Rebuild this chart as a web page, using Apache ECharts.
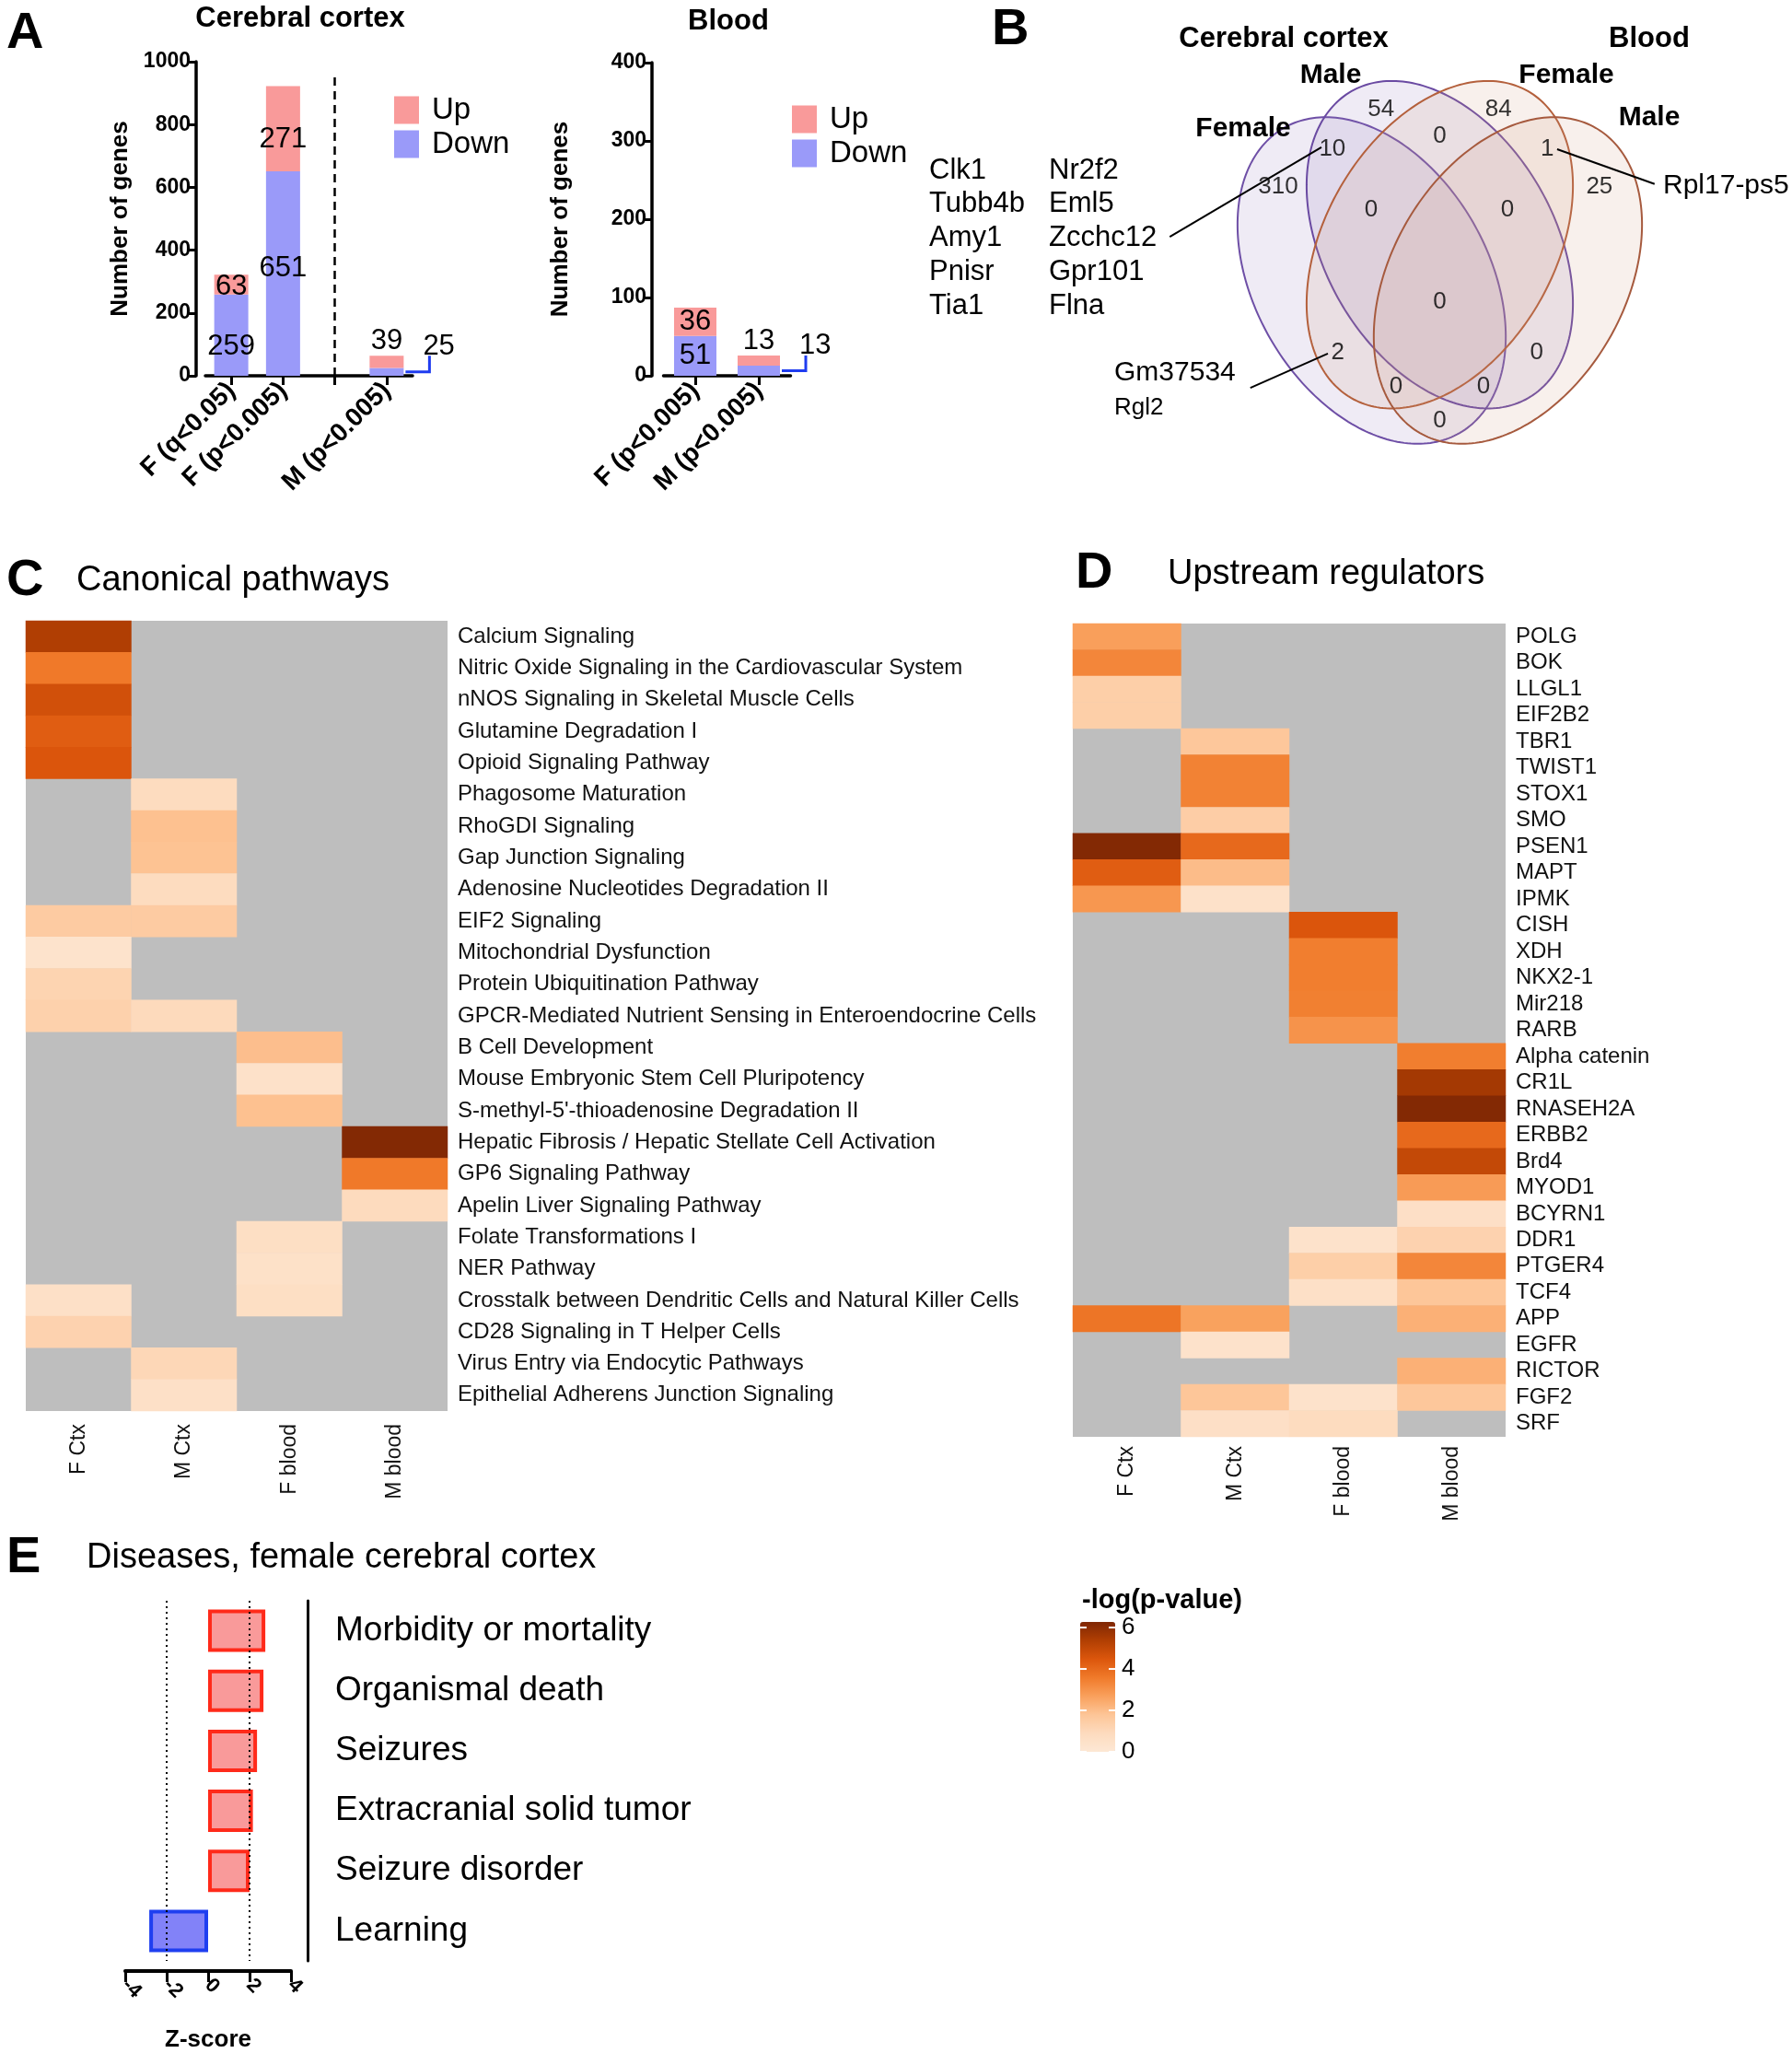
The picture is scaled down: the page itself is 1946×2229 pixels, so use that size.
<!DOCTYPE html>
<html><head><meta charset="utf-8">
<script src="https://cdn.jsdelivr.net/npm/echarts@6/dist/echarts.min.js"></script>
<style>html,body{margin:0;padding:0;background:#fff}#c{width:1946px;height:2229px}</style>
</head><body><div id="c"></div>
<script>
const FF = '"Liberation Sans", Arial, Helvetica, sans-serif';

// ---------- Panel A data ----------
const ctxCategories = ['F (q<0.05)', 'F (p<0.005)', '', 'M (p<0.005)'];
const ctxDown = [259, 651, null, 25];
const ctxUp = [63, 271, null, 39];
const bloodCategories = ['F (p<0.005)', 'M (p<0.005)'];
const bloodDown = [51, 13];
const bloodUp = [36, 13];

// ---------- Panel B data (Venn, normalised units) ----------
const vennSetNames = ['Cerebral cortex Female', 'Cerebral cortex Male', 'Blood Female', 'Blood Male'];
// [cx, cy, semi-major, semi-minor, angle deg]
const vennEllipses = [
  [0.363, 0.564, 0.354, 0.235, 60],
  [0.500, 0.492, 0.356, 0.231, 60],
  [0.500, 0.492, 0.356, 0.231, 120],
  [0.637, 0.564, 0.354, 0.235, 120]
];
const vennCounts = [
  [0.382, 0.220, 54], [0.618, 0.220, 84], [0.284, 0.300, 10], [0.500, 0.274, 0],
  [0.716, 0.300, 1], [0.175, 0.376, 310], [0.821, 0.376, 25], [0.362, 0.422, 0],
  [0.636, 0.422, 0], [0.500, 0.607, 0], [0.295, 0.709, 2], [0.695, 0.709, 0],
  [0.412, 0.778, 0], [0.588, 0.778, 0], [0.500, 0.846, 0]
];
const vennLinks = [
  [0.262, 0.296, -0.043, 0.476],
  [0.275, 0.711, 0.119, 0.780],
  [0.736, 0.300, 0.932, 0.370]
];
const genesCol1 = ['Clk1', 'Tubb4b', 'Amy1', 'Pnisr', 'Tia1'];
const genesCol2 = ['Nr2f2', 'Eml5', 'Zcchc12', 'Gpr101', 'Flna'];

// ---------- Panel C / D data ----------
const hmColumns = ['F Ctx', 'M Ctx', 'F blood', 'M blood'];
const pathwayNames = [
  'Calcium Signaling',
  'Nitric Oxide Signaling in the Cardiovascular System',
  'nNOS Signaling in Skeletal Muscle Cells',
  'Glutamine Degradation I',
  'Opioid Signaling Pathway',
  'Phagosome Maturation',
  'RhoGDI Signaling',
  'Gap Junction Signaling',
  'Adenosine Nucleotides Degradation II',
  'EIF2 Signaling',
  'Mitochondrial Dysfunction',
  'Protein Ubiquitination Pathway',
  'GPCR-Mediated Nutrient Sensing in Enteroendocrine Cells',
  'B Cell Development',
  'Mouse Embryonic Stem Cell Pluripotency',
  "S-methyl-5'-thioadenosine Degradation II",
  'Hepatic Fibrosis / Hepatic Stellate Cell Activation',
  'GP6 Signaling Pathway',
  'Apelin Liver Signaling Pathway',
  'Folate Transformations I',
  'NER Pathway',
  'Crosstalk between Dendritic Cells and Natural Killer Cells',
  'CD28 Signaling in T Helper Cells',
  'Virus Entry via Endocytic Pathways',
  'Epithelial Adherens Junction Signaling'
];
const pathwayValues = [
  [5.4, null, null, null],
  [3.6, null, null, null],
  [4.7, null, null, null],
  [4.3, null, null, null],
  [4.5, null, null, null],
  [null, 0.85, null, null],
  [null, 1.9, null, null],
  [null, 1.85, null, null],
  [null, 0.85, null, null],
  [1.55, 1.55, null, null],
  [0.35, null, null, null],
  [1.2, null, null, null],
  [1.3, 0.95, null, null],
  [null, null, 1.95, null],
  [null, null, 0.45, null],
  [null, null, 1.9, null],
  [null, null, null, 6.2],
  [null, null, null, 3.6],
  [null, null, null, 0.9],
  [null, null, 0.65, null],
  [null, null, 0.5, null],
  [0.55, null, 0.65, null],
  [1.25, null, null, null],
  [null, 1.05, null, null],
  [null, 0.55, null, null]
];
const regulatorNames = ['POLG', 'BOK', 'LLGL1', 'EIF2B2', 'TBR1', 'TWIST1', 'STOX1', 'SMO', 'PSEN1', 'MAPT', 'IPMK',
  'CISH', 'XDH', 'NKX2-1', 'Mir218', 'RARB', 'Alpha catenin', 'CR1L', 'RNASEH2A', 'ERBB2', 'Brd4', 'MYOD1', 'BCYRN1',
  'DDR1', 'PTGER4', 'TCF4', 'APP', 'EGFR', 'RICTOR', 'FGF2', 'SRF'];
const regulatorValues = [
  [2.7, null, null, null],
  [3.3, null, null, null],
  [1.4, null, null, null],
  [1.4, null, null, null],
  [null, 1.7, null, null],
  [null, 3.4, null, null],
  [null, 3.4, null, null],
  [null, 1.45, null, null],
  [6.2, 4.0, null, null],
  [4.3, 2.0, null, null],
  [2.9, 0.45, null, null],
  [null, null, 4.5, null],
  [null, null, 3.5, null],
  [null, null, 3.5, null],
  [null, null, 3.45, null],
  [null, null, 3.0, null],
  [null, null, null, 3.5],
  [null, null, null, 5.6],
  [null, null, null, 6.2],
  [null, null, null, 4.0],
  [null, null, null, 5.0],
  [null, null, null, 2.8],
  [null, null, null, 0.6],
  [null, null, 0.4, 1.25],
  [null, null, 1.4, 3.3],
  [null, null, 0.55, 1.75],
  [3.7, 2.65, null, 2.3],
  [null, 0.4, null, null],
  [null, null, null, 2.3],
  [null, 1.75, 0.4, 1.7],
  [null, 0.6, 0.85, null]
];
const colorbarTicks = [0, 2, 4, 6];
const colorbarMax = 6.27;

// ---------- Panel E data ----------
const diseaseNames = ['Morbidity or mortality', 'Organismal death', 'Seizures', 'Extracranial solid tumor', 'Seizure disorder', 'Learning'];
const diseaseZ = [2.76, 2.67, 2.36, 2.16, 2.0, -2.84];

// ---------- styles ----------
const UP = '#F99A9A', DOWN = '#9A9AF9', BRACKET = '#1F3CF0';
const ctxBarW = 37, bloodBarW = 46;
const vennFill = ['rgba(148,122,188,0.15)', 'rgba(148,122,188,0.15)', 'rgba(208,155,128,0.15)', 'rgba(208,155,128,0.15)'];
const vennStroke = ['#6E4FA6', '#6A4AA2', '#B4603C', '#A65A3E'];
const hmColors = ['#FDE8D5', '#FDDBBE', '#FDC597', '#F9A05C', '#F07A2A', '#DC560C', '#B13F03', '#7F2704'];

const ctxDownLabel = [{position: 'inside', offset: [0, 13]}, {position: 'inside', offset: [0, -6]}, {show: false}, {show: false}];
const ctxUpLabel = [{position: 'inside', offset: [0, 3]}, {position: 'inside', offset: [0, 12]}, {show: false}, {position: 'top', distance: 0}];
const bloodDownLabel = [{position: 'inside'}, {show: false}];
const bloodUpLabel = [{position: 'inside'}, {position: 'top', distance: 0}];

function barData(vals, labels) {
  return vals.map((v, i) => ({value: v == null ? '-' : v, label: Object.assign({show: true, fontSize: 31, color: '#000', fontFamily: FF}, labels[i])}));
}
function hmData(values) {
  const out = [];
  values.forEach((row, r) => row.forEach((v, c) => { if (v != null) out.push([c, r, v]); }));
  return out;
}

const blackLine = {show: true, lineStyle: {color: '#000', width: 3.5}};
const barAxisX = (gi, cats) => ({
  type: 'category', gridIndex: gi, data: cats,
  axisLine: blackLine,
  axisTick: {show: true, alignWithLabel: true, length: 10, interval: 0, lineStyle: {color: '#000', width: 3}},
  axisLabel: {interval: 0, rotate: 45, margin: 12, fontSize: 28, fontWeight: 'bold', color: '#000', fontFamily: FF}
});
const barAxisY = (gi, max, interval, offset, gap) => ({
  type: 'value', gridIndex: gi, min: 0, max: max, interval: interval, offset: offset,
  name: 'Number of genes', nameLocation: 'middle', nameGap: gap,
  nameTextStyle: {fontSize: 26, fontWeight: 'bold', color: '#000', fontFamily: FF},
  axisLine: blackLine,
  axisTick: {show: true, length: 8, lineStyle: {color: '#000', width: 3}},
  splitLine: {show: false},
  axisLabel: {fontSize: 23, fontWeight: 'bold', color: '#000', margin: 6, fontFamily: FF, formatter: v => String(v)}
});
const hmAxisX = (gi, margin) => ({
  type: 'category', gridIndex: gi, data: hmColumns, position: 'bottom',
  axisLine: {show: false}, axisTick: {show: false}, splitLine: {show: false},
  axisLabel: {rotate: 90, margin: margin, fontSize: 23, color: '#111', fontFamily: FF, interval: 0}
});
const hmAxisY = (gi, names) => ({
  type: 'category', gridIndex: gi, data: names, inverse: true, position: 'right',
  axisLine: {show: false}, axisTick: {show: false}, splitLine: {show: false},
  axisLabel: {margin: 11, fontSize: 24, color: '#111', fontFamily: FF, interval: 0}
});
const legendCfg = (left, top) => ({
  data: ['Up', 'Down'], orient: 'vertical', left: left, top: top, padding: 0,
  icon: 'rect', itemWidth: 27, itemHeight: 30, itemGap: 4, selectedMode: false,
  textStyle: {fontSize: 33, color: '#000', fontFamily: FF, padding: [0, 0, 0, 9]}
});

const option = {
  animation: false,
  backgroundColor: '#fff',
  textStyle: {fontFamily: FF},
  grid: [
    {left: 223, top: 67, width: 225, height: 341},
    {left: 720.5, top: 68, width: 138, height: 340},
    {left: 969.5, top: 0, width: 972, height: 540},
    {left: 28, top: 674, width: 458, height: 858, show: true, backgroundColor: '#BEBEBE', borderWidth: 0},
    {left: 1165, top: 677, width: 470, height: 883, show: true, backgroundColor: '#BEBEBE', borderWidth: 0},
    {left: 136, top: 1738, width: 180, height: 394}
  ],
  legend: [legendCfg(428, 103), legendCfg(860, 113)],
  xAxis: [
    barAxisX(0, ctxCategories),
    barAxisX(1, bloodCategories),
    {type: 'value', gridIndex: 2, min: -0.6, max: 1.2, show: false},
    hmAxisX(3, 14),
    hmAxisX(4, 10),
    {type: 'value', gridIndex: 5, min: -4, max: 4, interval: 2, offset: 11,
      name: 'Z-score', nameLocation: 'middle', nameGap: 62,
      nameTextStyle: {fontSize: 26, fontWeight: 'bold', color: '#000', fontFamily: FF},
      axisLine: {show: true, onZero: false, lineStyle: {color: '#000', width: 4}},
      axisTick: {show: true, length: 12, lineStyle: {color: '#000', width: 3}},
      splitLine: {show: false},
      axisLabel: {rotate: -45, fontSize: 22, fontWeight: 'bold', color: '#000', margin: 12, fontFamily: FF}}
  ],
  yAxis: [
    barAxisY(0, 1000, 200, 10, 69),
    barAxisY(1, 400, 100, 12.5, 86),
    {type: 'value', gridIndex: 2, min: 0, max: 1, inverse: true, show: false},
    hmAxisY(3, pathwayNames),
    hmAxisY(4, regulatorNames),
    {type: 'category', gridIndex: 5, data: diseaseNames, inverse: true, position: 'right', offset: 18,
      axisLine: {show: true, onZero: false, lineStyle: {color: '#000', width: 3}},
      axisTick: {show: false},
      axisLabel: {fontSize: 37, color: '#000', margin: 30, fontFamily: FF}}
  ],
  visualMap: {
    type: 'continuous', min: 0, max: colorbarMax, seriesIndex: [7, 8], dimension: 2,
    left: 1173, top: 1761, itemWidth: 38, itemHeight: 141, padding: 0, calculable: false,
    orient: 'vertical', inRange: {color: hmColors}, textStyle: {fontSize: 0}
  },
  series: [
    {type: 'bar', name: 'Down', xAxisIndex: 0, yAxisIndex: 0, stack: 'ctx', barWidth: ctxBarW,
      itemStyle: {color: DOWN}, data: barData(ctxDown, ctxDownLabel)},
    {type: 'bar', name: 'Up', xAxisIndex: 0, yAxisIndex: 0, stack: 'ctx', barWidth: ctxBarW,
      itemStyle: {color: UP}, data: barData(ctxUp, ctxUpLabel),
      markLine: {silent: true, symbol: 'none', label: {show: false},
        lineStyle: {color: '#000', width: 2.5, type: [9, 6]},
        data: [[{coord: [2, 0]}, {coord: [2, 958]}]]}},
    {type: 'bar', name: 'Down', xAxisIndex: 1, yAxisIndex: 1, stack: 'bl', barWidth: bloodBarW,
      itemStyle: {color: DOWN}, data: barData(bloodDown, bloodDownLabel)},
    {type: 'bar', name: 'Up', xAxisIndex: 1, yAxisIndex: 1, stack: 'bl', barWidth: bloodBarW,
      itemStyle: {color: UP}, data: barData(bloodUp, bloodUpLabel)},
    {type: 'custom', name: 'venn', xAxisIndex: 2, yAxisIndex: 2, silent: true, data: vennEllipses,
      renderItem: function (params, api) {
        const cx = api.value(0), cy = api.value(1), a = api.value(2), b = api.value(3);
        const ang = api.value(4) * Math.PI / 180;
        const pts = [];
        for (let k = 0; k < 240; k++) {
          const t = k / 240 * 2 * Math.PI;
          const x = cx + a * Math.cos(ang) * Math.cos(t) - b * Math.sin(ang) * Math.sin(t);
          const y = cy + a * Math.sin(ang) * Math.cos(t) + b * Math.cos(ang) * Math.sin(t);
          pts.push(api.coord([x, y]));
        }
        const i = params.dataIndex;
        return {type: 'polygon', shape: {points: pts}, style: {fill: vennFill[i], stroke: vennStroke[i], lineWidth: 2}};
      }},
    {type: 'scatter', name: 'vennCounts', xAxisIndex: 2, yAxisIndex: 2, silent: true, symbolSize: 1,
      itemStyle: {color: 'rgba(0,0,0,0)'}, data: vennCounts,
      label: {show: true, position: 'inside', formatter: p => String(p.value[2]), fontSize: 26, color: '#000', fontFamily: FF}},
    {type: 'lines', name: 'links', coordinateSystem: 'cartesian2d', xAxisIndex: 2, yAxisIndex: 2, silent: true,
      lineStyle: {color: '#000', width: 2, opacity: 1},
      data: vennLinks.map(l => ({coords: [[l[0], l[1]], [l[2], l[3]]]}))},
    {type: 'heatmap', name: 'pathways', xAxisIndex: 3, yAxisIndex: 3, data: hmData(pathwayValues),
      itemStyle: {borderWidth: 0}, emphasis: {disabled: true}},
    {type: 'heatmap', name: 'regulators', xAxisIndex: 4, yAxisIndex: 4, data: hmData(regulatorValues),
      itemStyle: {borderWidth: 0}, emphasis: {disabled: true}},
    {type: 'bar', name: 'z', xAxisIndex: 5, yAxisIndex: 5, barWidth: 46,
      data: diseaseZ.map(v => ({value: v, itemStyle: {
        color: v >= 0 ? '#F99A9A' : '#8282F8', borderColor: v >= 0 ? '#FF2A1A' : '#1F3FF0', borderWidth: 4}})),
      markLine: {silent: true, symbol: 'none', label: {show: false},
        lineStyle: {color: '#000', width: 2, type: [2, 4]},
        data: [{xAxis: -2}, {xAxis: 2}]}}
  ]
};

const chart = echarts.init(document.getElementById('c'), null, {renderer: 'canvas'});
chart.setOption(option);

function txt(text, x, y, size, bold, align) {
  const font = (bold ? 'bold ' : '') + size + 'px ' + FF;
  return {type: 'text', x: x, y: y, silent: true, z: 100,
    style: {text: text, font: font, fill: '#000', align: align || 'left', textAlign: align || 'left',
      verticalAlign: 'middle', textVerticalAlign: 'middle'}};
}
const g = [];
// panel letters
[['A', 7, 37], ['B', 1077, 33], ['C', 7, 631], ['D', 1168, 623], ['E', 7, 1692]].forEach(d => g.push(txt(d[0], d[1], d[2], 56, true)));
// panel A titles
g.push(txt('Cerebral cortex', 326, 20, 31, true, 'center'));
g.push(txt('Blood', 791, 23, 31, true, 'center'));
// Venn titles
g.push(txt('Cerebral cortex', 1394, 42, 31, true, 'center'));
g.push(txt('Blood', 1791, 42, 31, true, 'center'));
g.push(txt('Male', 1445, 82, 30, true, 'center'));
g.push(txt('Female', 1701, 82, 30, true, 'center'));
g.push(txt('Male', 1791, 128, 30, true, 'center'));
g.push(txt('Female', 1350, 140, 30, true, 'center'));
genesCol1.forEach((s, i) => g.push(txt(s, 1009, 185 + i * 36.75, 31)));
genesCol2.forEach((s, i) => g.push(txt(s, 1139, 185 + i * 36.75, 31)));
g.push(txt('Gm37534', 1210, 405, 30));
g.push(txt('Rgl2', 1210, 443, 26));
g.push(txt('Rpl17-ps5', 1806, 202, 30));
// panel titles
g.push(txt('Canonical pathways', 83, 631, 38));
g.push(txt('Upstream regulators', 1268, 624, 38));
g.push(txt('Diseases, female cerebral cortex', 94, 1692, 38));
g.push(txt('-log(p-value)', 1175, 1738, 29, true));
// colorbar ticks
const cbTop = 1761, cbH = 141, cbL = 1173, cbW = 38;
colorbarTicks.forEach(v => {
  const y = cbTop + cbH * (1 - v / colorbarMax);
  g.push(txt(String(v), cbL + cbW + 7, y, 26));
  g.push({type: 'line', z: 100, silent: true, shape: {x1: cbL, y1: y, x2: cbL + 7, y2: y}, style: {stroke: '#fff', lineWidth: 2}});
  g.push({type: 'line', z: 100, silent: true, shape: {x1: cbL + cbW - 7, y1: y, x2: cbL + cbW, y2: y}, style: {stroke: '#fff', lineWidth: 2}});
});
// brackets for the small "Down" values
function bracket(gridIndex, cat, down, up, bw) {
  const pMid = chart.convertToPixel({gridIndex: gridIndex}, [cat, down / 2]);
  const pTop = chart.convertToPixel({gridIndex: gridIndex}, [cat, down + up]);
  const right = pMid[0] + bw / 2;
  g.push({type: 'polyline', z: 90, silent: true,
    shape: {points: [[right + 2, pMid[1]], [right + 28, pMid[1]], [right + 28, pTop[1]]]},
    style: {stroke: BRACKET, lineWidth: 3, fill: null}});
  g.push(txt(String(down), right + 21, pTop[1] - 10, 31));
}
bracket(0, ctxCategories[3], ctxDown[3], ctxUp[3], ctxBarW);
bracket(1, bloodCategories[1], bloodDown[1], bloodUp[1], bloodBarW);

chart.setOption({graphic: {elements: g}});
</script>
</body></html>
